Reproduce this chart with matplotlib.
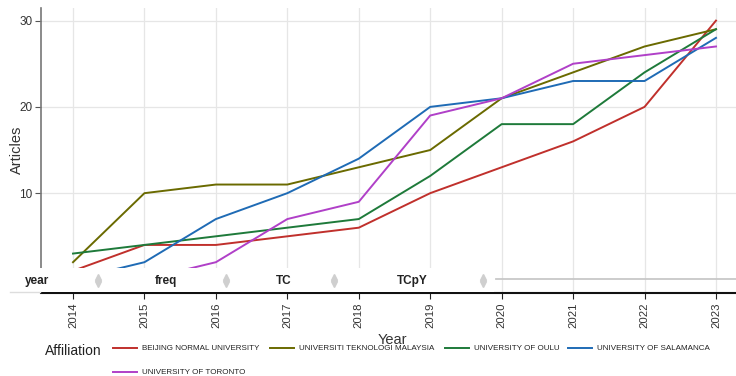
import matplotlib
matplotlib.use("Agg")
import matplotlib.pyplot as plt
from matplotlib.lines import Line2D
from matplotlib.patches import Rectangle

plt.rcParams['font.family'] = ['Liberation Sans', 'DejaVu Sans']

years = [2014, 2015, 2016, 2017, 2018, 2019, 2020, 2021, 2022, 2023]
affiliations = ["BEIJING NORMAL UNIVERSITY", "UNIVERSITI TEKNOLOGI MALAYSIA",
                "UNIVERSITY OF OULU", "UNIVERSITY OF SALAMANCA",
                "UNIVERSITY OF TORONTO"]
beijing = [1, 4, 4, 5, 6, 10, 13, 16, 20, 30]
utm = [2, 10, 11, 11, 13, 15, 21, 24, 27, 29]
oulu = [3, 4, 5, 6, 7, 12, 18, 18, 24, 29]
salamanca = [0, 2, 7, 10, 14, 20, 21, 23, 23, 28]
toronto = [0, 0, 2, 7, 9, 19, 21, 25, 26, 27]
series = [beijing, utm, oulu, salamanca, toronto]
colors = ["#c0302c", "#6a6a00", "#1e7a3a", "#1f6bb5", "#b040c8"]
header_cols = ["year", "freq", "TC", "TCpY"]

W, H = 736, 376
fig = plt.figure(figsize=(W / 100, H / 100), dpi=100)


def fx(px):
    return px / W


def fy(py):
    return 1 - py / H


ax = fig.add_axes([fx(41), fy(293), fx(736) - fx(41), fy(8) - fy(293)])
for vals, c in zip(series, colors):
    ax.plot(years, vals, color=c, lw=1.4)

ax.set_xlim(2013.552, 2023.28)
ax.set_ylim(-1.57, 31.46)
ax.set_xticks(years)
ax.set_xticklabels([str(y) for y in years], rotation=90, fontsize=8.2, color="#333333")
ax.set_yticks([10, 20, 30])
ax.tick_params(axis="y", labelsize=8.5, labelcolor="#333333", color="#555555", length=4, pad=2)
ax.tick_params(axis="x", color="#222222", length=4, pad=3)
ax.grid(True, color="#e6e6e6", lw=0.9)
ax.set_axisbelow(True)
for s in ["top", "right"]:
    ax.spines[s].set_visible(False)
ax.spines["left"].set_color("#777777")
ax.spines["left"].set_linewidth(1.2)
ax.spines["bottom"].set_color("#111111")
ax.spines["bottom"].set_linewidth(1.5)
fig.text(fx(17), fy(150), "Articles", rotation=90, ha="center", va="center",
         fontsize=10.5, color="#333333")

# table header strip laid over the lower part of the plot
fig.add_artist(Rectangle((0, fy(292)), fx(494), fy(268) - fy(292),
                         transform=fig.transFigure, facecolor="white",
                         edgecolor="none", zorder=5))
fig.add_artist(Line2D([fx(496), 1], [fy(279), fy(279)], color="#c8c8c8", lw=1.3, zorder=6))
fig.add_artist(Line2D([fx(10), fx(40)], [fy(292), fy(292)], color="#dddddd", lw=1, zorder=6))
for name, x in zip(header_cols, [37, 166, 284, 412]):
    fig.text(fx(x), fy(281), name, ha="center", va="center", fontsize=8.5,
             fontweight="bold", color="#222222", zorder=7)
for x in [98, 226, 334, 483]:
    fig.add_artist(Line2D([fx(x)], [fy(277)], marker="^", ms=4, color="#cfcfcf",
                          ls="none", zorder=7))
    fig.add_artist(Line2D([fx(x)], [fy(284)], marker="v", ms=4, color="#cfcfcf",
                          ls="none", zorder=7))

fig.text(fx(392), fy(340), "Year", ha="center", va="center", fontsize=10.5, color="#333333")

# legend
fig.text(fx(45), fy(351), "Affiliation", ha="left", va="center", fontsize=10, color="#222222")
legend_pos = [(113, 348), (270, 348), (445, 348), (568, 348), (113, 372)]
for (x, y), name, c in zip(legend_pos, affiliations, colors):
    fig.add_artist(Line2D([fx(x), fx(x + 24)], [fy(y), fy(y)], color=c, lw=1.4))
    fig.text(fx(x + 29), fy(y), name, ha="left", va="center", fontsize=5.8, color="#222222")

fig.savefig("out.png", dpi=100)
